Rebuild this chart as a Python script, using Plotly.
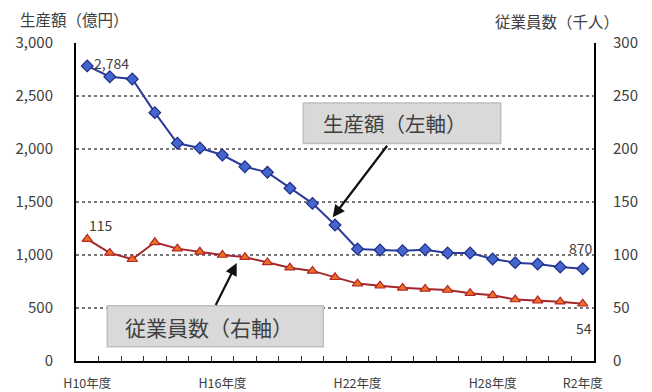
import plotly.graph_objects as go

years = ["H10年度", "H11年度", "H12年度", "H13年度", "H14年度", "H15年度", "H16年度", "H17年度",
         "H18年度", "H19年度", "H20年度", "H21年度", "H22年度", "H23年度", "H24年度", "H25年度",
         "H26年度", "H27年度", "H28年度", "H29年度", "H30年度", "R1年度", "R2年度"]
production = [2784, 2682, 2660, 2343, 2054, 2009, 1943, 1833, 1780, 1630, 1487, 1283,
              1057, 1047, 1041, 1050, 1019, 1019, 962, 928, 915, 887, 870]
employees = [115, 102, 96, 112, 106, 103, 100, 98, 93, 88, 85, 79,
             73, 71, 69, 68, 67, 64, 62, 58, 57, 56, 54]
tick_idx = [0, 6, 12, 18, 22]
tick_labels = ["H10年度", "H16年度", "H22年度", "H28年度", "R2年度"]

FONT = "Noto Sans CJK JP"
TXT = "#404040"
x = list(range(len(years)))
boundaries = [i - 0.5 for i in range(len(years) + 1)]

fig = go.Figure()
fig.add_trace(go.Scatter(
    x=x, y=production, mode="lines+markers", name="生産額",
    line=dict(color="#2B3A9A", width=2),
    marker=dict(symbol="diamond", size=9, color="#4466CC", line=dict(color="#1E2C8A", width=1.2)),
    xaxis="x", yaxis="y"))
fig.add_trace(go.Scatter(
    x=x, y=employees, mode="lines+markers", name="従業員数",
    line=dict(color="#A3262A", width=2),
    marker=dict(symbol="triangle-up", size=9, color="#EE6E22", line=dict(color="#B0282A", width=1.2)),
    xaxis="x", yaxis="y2"))
# invisible trace to carry the category-boundary tick axis
fig.add_trace(go.Scatter(x=x, y=employees, mode="markers", marker=dict(opacity=0),
                         hoverinfo="skip", xaxis="x2", yaxis="y2", showlegend=False))

L, R, T, B = 76, 58, 42.5, 30.5
W, H = 652, 392
pw, ph = W - L - R, H - T - B


def px(v):
    return (v - L) / pw


def py(v):
    return (H - B - v) / ph


annotations = [
    dict(x=x[0], y=production[0], xref="x", yref="y", text=f"{production[0]:,}", showarrow=False,
         xanchor="left", yanchor="middle", xshift=5, yshift=3, font=dict(size=14, color=TXT, family=FONT)),
    dict(x=x[-1], y=production[-1], xref="x", yref="y", text=f"{production[-1]:,}", showarrow=False,
         xanchor="center", yanchor="bottom", xshift=-2, yshift=9, font=dict(size=14, color=TXT, family=FONT)),
    dict(x=x[0], y=employees[0], xref="x", yref="y2", text=str(employees[0]), showarrow=False,
         xanchor="left", yanchor="bottom", xshift=0, yshift=2, font=dict(size=14, color=TXT, family=FONT)),
    dict(x=x[-1], y=employees[-1], xref="x", yref="y2", text=str(employees[-1]), showarrow=False,
         xanchor="center", yanchor="top", xshift=1, yshift=-12, font=dict(size=14, color=TXT, family=FONT)),
    # axis titles
    dict(x=px(18), y=py(18), xref="paper", yref="paper", text="生産額（億円）", showarrow=False,
         xanchor="left", yanchor="middle", font=dict(size=15.5, color=TXT, family=FONT)),
    dict(x=px(493), y=py(20), xref="paper", yref="paper", text="従業員数（千人）", showarrow=False,
         xanchor="left", yanchor="middle", font=dict(size=15.5, color=TXT, family=FONT)),
    # callout texts
    dict(x=px(321), y=py(123), xref="paper", yref="paper", text="生産額（左軸）", showarrow=False,
         xanchor="left", yanchor="middle", font=dict(size=20.5, color=TXT, family=FONT)),
    dict(x=px(123), y=py(327), xref="paper", yref="paper", text="従業員数（右軸）", showarrow=False,
         xanchor="left", yanchor="middle", font=dict(size=21, color=TXT, family=FONT)),
    # arrows
    dict(x=px(332.7), y=py(217.3), xref="paper", yref="paper", text="", showarrow=True,
         ax=55.6, ay=-73, arrowhead=2, arrowsize=1.1, arrowwidth=2.2, arrowcolor="#111"),
    dict(x=px(236.7), y=py(263.3), xref="paper", yref="paper", text="", showarrow=True,
         ax=-21.7, ay=43.4, arrowhead=2, arrowsize=1.1, arrowwidth=2.2, arrowcolor="#111"),
]

shapes = [
    dict(type="rect", xref="paper", yref="paper", x0=px(303.3), x1=px(500.7), y0=py(143.3), y1=py(102.7),
         fillcolor="#D9D9D9", line=dict(color="#BFBFBF", width=1.5), layer="above"),
    dict(type="rect", xref="paper", yref="paper", x0=px(107.3), x1=px(323.3), y0=py(347.3), y1=py(306),
         fillcolor="#D9D9D9", line=dict(color="#BFBFBF", width=1.5), layer="above"),
]

xrange = [-0.5, len(years) - 0.5]

fig.update_layout(
    width=W, height=H,
    margin=dict(l=L, r=R, t=T, b=B, pad=0, autoexpand=False),
    paper_bgcolor="white", plot_bgcolor="white",
    showlegend=False,
    font=dict(family=FONT, color=TXT),
    xaxis=dict(
        range=xrange, automargin=False,
        tickmode="array", tickvals=tick_idx, ticktext=tick_labels,
        ticks="", showgrid=False, zeroline=False,
        showline=True, linecolor="black", linewidth=2,
        tickfont=dict(size=12.5, color=TXT, family=FONT),
        ticklabelstandoff=10,
    ),
    xaxis2=dict(
        range=xrange, automargin=False, overlaying="x", side="bottom", anchor="y",
        tickmode="array", tickvals=boundaries, ticks="inside", ticklen=5,
        tickcolor="#333", tickwidth=1, showticklabels=False,
        showgrid=False, zeroline=False, showline=False,
    ),
    yaxis=dict(
        range=[0, 3000], dtick=500, tickformat=",", automargin=False,
        showgrid=True, gridcolor="#777", griddash="dot", gridwidth=1.5,
        zeroline=False, showline=True, linecolor="black", linewidth=2,
        ticks="", tickfont=dict(size=15, color=TXT, family=FONT), ticklabelstandoff=18,
    ),
    yaxis2=dict(
        range=[0, 300], dtick=50, overlaying="y", side="right", automargin=False,
        showgrid=False, zeroline=False, showline=True, linecolor="black", linewidth=2,
        ticks="", tickfont=dict(size=15, color=TXT, family=FONT), ticklabelstandoff=14,
    ),
    annotations=annotations,
    shapes=shapes,
)

fig.write_html("out.html")
